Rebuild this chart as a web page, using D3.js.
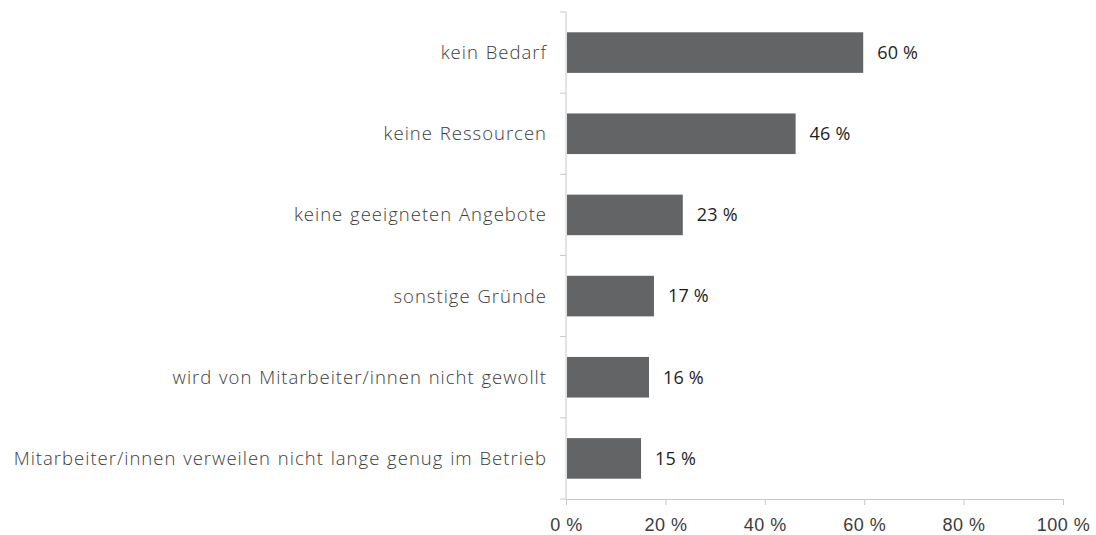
<!DOCTYPE html>
<html>
<head>
<meta charset="utf-8">
<script src="https://cdn.jsdelivr.net/npm/d3@7"></script>
<style>
  html, body { margin: 0; padding: 0; background: #fff; }
  svg { display: block; font-family: "Open Sans", sans-serif; }
  .axis path, .axis line { stroke: #c8c8c8; }
  .axis text { fill: #3c3c3c; font-size: 18px; font-weight: 300; letter-spacing: 0.5px; }
  .axis .cat { font-size: 18.5px; letter-spacing: 1px; word-spacing: 1px; }
  .value { fill: #1e1e1e; font-size: 18px; letter-spacing: 0.2px; }
</style>
</head>
<body>
<svg id="chart" width="1096" height="535"></svg>
<script>
  var categories = [
    "kein Bedarf",
    "keine Ressourcen",
    "keine geeigneten Angebote",
    "sonstige Gründe",
    "wird von Mitarbeiter/innen nicht gewollt",
    "Mitarbeiter/innen verweilen nicht lange genug im Betrieb"
  ];
  var values = [59.6, 46, 23.3, 17.5, 16.5, 14.9];
  var valueLabels = ["60 %", "46 %", "23 %", "17 %", "16 %", "15 %"];
  var xTicks = [0, 20, 40, 60, 80, 100];

  var svg = d3.select("#chart");
  var margin = { top: 12, right: 33, bottom: 36, left: 566 };
  var width = 1096 - margin.left - margin.right;
  var height = 535 - margin.top - margin.bottom;
  var g = svg.append("g").attr("transform", "translate(" + margin.left + "," + margin.top + ")");

  var x = d3.scaleLinear().domain([0, 100]).range([0, width]);
  var y = d3.scaleBand().domain(categories).range([0, height]).paddingInner(0.5).paddingOuter(0.25);

  // y axis: ticks sit on band boundaries
  var yAxis = g.append("g").attr("class", "axis");
  yAxis.append("line").attr("x1", 0).attr("x2", 0).attr("y1", 0).attr("y2", height);
  var step = height / categories.length;
  yAxis.selectAll(".bt").data(d3.range(categories.length + 1)).enter().append("line")
    .attr("x1", -6).attr("x2", 0)
    .attr("y1", function (d) { return d * step; })
    .attr("y2", function (d) { return d * step; });
  yAxis.selectAll("text").data(categories).enter().append("text")
    .attr("class", "cat")
    .attr("x", -19)
    .attr("y", function (d) { return y(d) + y.bandwidth() / 2; })
    .attr("dy", "0.35em")
    .attr("text-anchor", "end")
    .text(function (d) { return d; });

  var xAxis = g.append("g").attr("class", "axis")
    .attr("transform", "translate(0," + height + ")")
    .call(d3.axisBottom(x).tickValues(xTicks).tickSize(6).tickSizeOuter(0)
      .tickFormat(function (d) { return d + " %"; }));
  xAxis.selectAll("text").attr("dy", "0.71em").attr("y", 19);

  g.selectAll(".bar").data(values).enter().append("rect")
    .attr("class", "bar")
    .attr("x", x(0) + 1)
    .attr("y", function (d, i) { return y(categories[i]); })
    .attr("width", function (d) { return x(d) - x(0); })
    .attr("height", y.bandwidth())
    .attr("fill", "#636466");

  g.selectAll(".value").data(values).enter().append("text")
    .attr("class", "value")
    .attr("x", function (d) { return x(d) + 15; })
    .attr("y", function (d, i) { return y(categories[i]) + y.bandwidth() / 2; })
    .attr("dy", "0.35em")
    .text(function (d, i) { return valueLabels[i]; });
</script>
</body>
</html>
